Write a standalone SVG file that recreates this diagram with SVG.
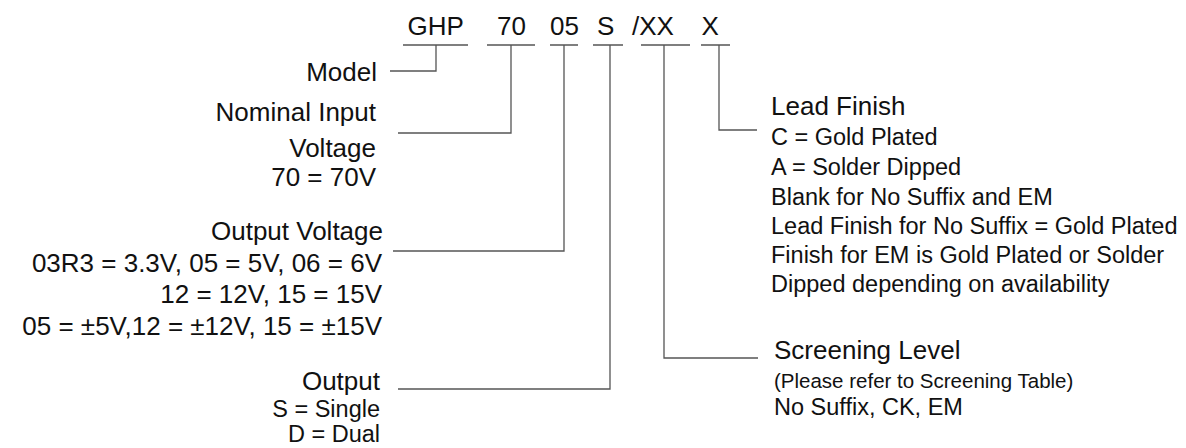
<svg xmlns="http://www.w3.org/2000/svg" width="1186" height="448" viewBox="0 0 1186 448">
<style>
text{font-family:"Liberation Sans",Arial,Helvetica,sans-serif;fill:#111}
.big{font-size:26px}
.sub{font-size:23.5px}
.small{font-size:20.5px}
.r{text-anchor:end}
.ln{fill:none;stroke:#555;stroke-width:1.3}
</style>
<rect width="1186" height="448" fill="#fff"/>
<g id="code">
<text class="big" x="407.5" y="35">GHP</text>
<text class="big" x="497" y="35">70</text>
<text class="big" x="550" y="35">05</text>
<text class="big" x="597" y="35">S</text>
<text class="big" x="632" y="35">/XX</text>
<text class="big" x="701.5" y="35">X</text>
</g>
<g id="model">
<text class="big r" x="377" y="81">Model</text>
</g>
<g id="input-voltage">
<text class="big r" x="376" y="121">Nominal Input</text>
<text class="big r" x="376" y="157">Voltage</text>
<text class="big r" x="376" y="186">70 = 70V</text>
</g>
<g id="output-voltage">
<text class="big r" x="383" y="240">Output Voltage</text>
<text class="big r" x="382" y="271.5">03R3 = 3.3V, 05 = 5V, 06 = 6V</text>
<text class="big r" x="382" y="303">12 = 12V, 15 = 15V</text>
<text class="big r" x="382" y="335">05 = ±5V,12 = ±12V, 15 = ±15V</text>
</g>
<g id="output">
<text class="big r" x="380" y="390">Output</text>
<text class="sub r" x="380" y="417">S = Single</text>
<text class="sub r" x="380" y="442">D = Dual</text>
</g>
<g id="lead-finish">
<text class="big" x="771" y="115">Lead Finish</text>
<text class="sub" x="771" y="145">C = Gold Plated</text>
<text class="sub" x="771" y="175">A = Solder Dipped</text>
<text class="sub" x="771" y="205">Blank for No Suffix and EM</text>
<text class="sub" x="771" y="234">Lead Finish for No Suffix = Gold Plated</text>
<text class="sub" x="771" y="263">Finish for EM is Gold Plated or Solder</text>
<text class="sub" x="771" y="292">Dipped depending on availability</text>
</g>
<g id="screening">
<text class="big" x="774" y="359">Screening Level</text>
<text class="small" x="774" y="388">(Please refer to Screening Table)</text>
<text class="sub" x="774" y="415">No Suffix, CK, EM</text>
</g>
<g id="connectors" class="ln">
<path d="M403 45H468M487 45H535M550 45H578M593 45H623M641 45H690M701 45H730"/>
<path d="M436 45V71H390"/>
<path d="M511 45V133H398"/>
<path d="M564 45V251H393"/>
<path d="M610 45V389H398"/>
<path d="M664 45V358H758"/>
<path d="M719 45V130H757"/>
</g>
</svg>
